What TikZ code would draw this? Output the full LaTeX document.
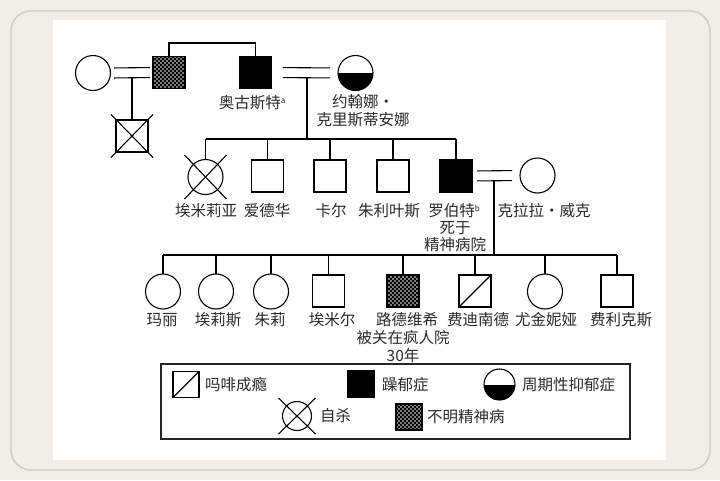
\documentclass[tikz,border=0pt]{standalone}
\usepackage{fontspec}
\setmainfont{Noto Sans CJK SC}
\usetikzlibrary{patterns}
\definecolor{bgc}{HTML}{F2EDE6}
\definecolor{bordc}{HTML}{D4C9BC}
\definecolor{txt}{HTML}{2A2A2A}
\pgfdeclarepatternformonly{wdots}{\pgfqpoint{-0.5pt}{-0.5pt}}{\pgfqpoint{4.5pt}{4.5pt}}{\pgfqpoint{4pt}{4pt}}{%
  \pgfpathcircle{\pgfqpoint{1pt}{1pt}}{0.8pt}%
  \pgfpathcircle{\pgfqpoint{3pt}{3pt}}{0.8pt}%
  \pgfusepath{fill}}
\newcommand{\supmark}[1]{\raisebox{5pt}{\fontsize{8}{8}\selectfont #1}}
\begin{document}
\begin{tikzpicture}[x=1pt,y=-1pt,
  sym/.style={draw=black, line width=1.1pt, fill=white, inner sep=0pt, outer sep=0pt},
  male/.style={sym, rectangle, minimum size=32pt},
  female/.style={sym, circle, minimum size=35pt},
  aff/.style={fill=black},
  unk/.style={fill=none, preaction={fill=black}, pattern=wdots, pattern color=white},
  morph/.style={path picture={\draw[line width=1.1pt] (path picture bounding box.south west) -- (path picture bounding box.north east);}},
  cyc/.style={path picture={\fill[black] (path picture bounding box.west) rectangle (path picture bounding box.south east);}},
  lab/.style={inner sep=0pt, font=\fontsize{15.5}{17.5}\selectfont, text=txt},
  ln/.style={line width=1.1pt, draw=black},
  xmark/.style={line width=1.1pt, draw=black}
]
% background
\useasboundingbox (0,0) rectangle (720,480);
\fill[bgc] (0,0) rectangle (720,480);
\draw[bordc, line width=1.4pt, rounded corners=20pt] (11,11) rectangle (710,470);
\fill[white] (53,20) rectangle (666,460);

% ---------- generation 1
\node[female] (g1w) at (93,73) {};
\node[male, unk] (g1u) at (169,72.5) {};
\node[male, aff] (aug) at (255.5,72.5) {};
\node[female, cyc] (joh) at (355.5,73) {};
\node[male] (g1c) at (132,136) {};
\draw[xmark] ([shift={(-21pt,21.5pt)}]g1c.center) -- ([shift={(21pt,-21.5pt)}]g1c.center);
\draw[xmark] ([shift={(-21pt,-21.5pt)}]g1c.center) -- ([shift={(21pt,21.5pt)}]g1c.center);

\node[lab] (laug) at (252,103) {奥古斯特\supmark{a}};
\node[lab] (ljoh1) at (363,102) {约翰娜・};
\node[lab] (ljoh2) at (363,120) {克里斯蒂安娜};

% sibship of gen 1
\coordinate (s1) at (212,43);
\draw[ln] (g1u.north) -- (g1u.north |- s1) -- (aug.north |- s1) -- (aug.north);
% marriages gen 1
\draw[ln, shorten <=3.5pt, shorten >=3pt] ([yshift=5pt]g1w.east) -- ([yshift=5pt]g1u.west);
\draw[ln, shorten <=3.5pt, shorten >=3pt] ([yshift=-5pt]g1w.east) -- ([yshift=-5pt]g1u.west);
\coordinate (m1) at (132,78);
\draw[ln] (m1) -- (g1c.north);
\draw[ln, shorten <=11.5pt, shorten >=8pt] ([yshift=5pt]aug.east) -- ([yshift=5pt]joh.west);
\draw[ln, shorten <=11.5pt, shorten >=8pt] ([yshift=-5pt]aug.east) -- ([yshift=-5pt]joh.west);
\coordinate (m2) at (307,78);
\coordinate (s2) at (307,139);
\draw[ln] (m2) -- (s2);

% ---------- generation 2
\node[female] (emi) at (205.5,177) {};
\node[male] (edw) at (267.5,176) {};
\node[male] (carl) at (330,176) {};
\node[male] (jul) at (393,176) {};
\node[male, aff] (rob) at (456,176) {};
\node[female] (clara) at (537.5,175.5) {};
\draw[xmark] ([shift={(-21pt,22pt)}]emi.center) -- ([shift={(21pt,-22pt)}]emi.center);
\draw[xmark] ([shift={(-21pt,-22pt)}]emi.center) -- ([shift={(21pt,22pt)}]emi.center);

\draw[ln] (emi.north |- s2) -- (rob.north |- s2);
\foreach \n in {emi,edw,carl,jul,rob} \draw[ln] (\n.north |- s2) -- (\n.north);

\node[lab] (lemi) at (206,211) {埃米莉亚};
\node[lab] (ledw) at (267,211) {爱德华};
\node[lab] (lcarl) at (331,211) {卡尔};
\node[lab] (ljul) at (389,211) {朱利叶斯};
\node[lab] (lrob1) at (454,211) {罗伯特\supmark{b}};
\node[lab] (lrob2) at (455,228) {死于};
\node[lab] (lrob3) at (455,245) {精神病院};
\node[lab] (lclara) at (544,211) {克拉拉・威克};

\draw[ln, shorten <=5pt, shorten >=8pt] ([yshift=5pt]rob.east) -- ([yshift=5pt]clara.west);
\draw[ln, shorten <=5pt, shorten >=8pt] ([yshift=-5pt]rob.east) -- ([yshift=-5pt]clara.west);
\coordinate (m3) at (494,181);
\coordinate (s3) at (494,255);
\draw[ln] (m3) -- (s3);

% ---------- generation 3
\node[female] (mary) at (163,291.5) {};
\node[female] (elise) at (216,291.5) {};
\node[female] (julie) at (271,291.5) {};
\node[male] (emil) at (328.5,291) {};
\node[male, unk] (lud) at (403,291) {};
\node[male, morph] (ferd) at (475,291) {};
\node[female] (eug) at (545,291.5) {};
\node[male] (felix) at (617,291) {};

\draw[ln] (mary.north |- s3) -- (felix.north |- s3);
\foreach \n in {mary,elise,julie,emil,lud,ferd,eug,felix} \draw[ln] (\n.north |- s3) -- (\n.north);

\node[lab] (lmary) at (162,320) {玛丽};
\node[lab] (lelise) at (218,320) {埃莉斯};
\node[lab] (ljulie) at (270,320) {朱莉};
\node[lab] (lemil) at (332,320) {埃米尔};
\node[lab] (llud1) at (407,320) {路德维希};
\node[lab] (llud2) at (403,338) {被关在疯人院};
\node[lab] (llud3) at (403,356) {30年};
\node[lab] (lferd) at (478,320) {费迪南德};
\node[lab] (leug) at (546,320) {尤金妮娅};
\node[lab] (lfelix) at (621,320) {费利克斯};

% ---------- legend
\draw[line width=1.2pt, draw=black!85] (161,364) rectangle (630,439);
\node[male, morph, minimum size=26pt] (lg1) at (186,384.5) {};
\node[lab, anchor=west] (lt1) at (205,385) {吗啡成瘾};
\node[male, aff, minimum size=26pt] (lg2) at (361,384) {};
\node[lab, anchor=west] (lt2) at (382,385) {躁郁症};
\node[female, cyc, minimum size=31pt] (lg3) at (499.5,384.5) {};
\node[lab, anchor=west] (lt3) at (522,385) {周期性抑郁症};
\node[female, minimum size=29pt] (lg4) at (297,416) {};
\draw[xmark] ([shift={(-18.5pt,18pt)}]lg4.center) -- ([shift={(18.5pt,-18pt)}]lg4.center);
\draw[xmark] ([shift={(-18.5pt,-18pt)}]lg4.center) -- ([shift={(18.5pt,18pt)}]lg4.center);
\node[lab, anchor=west] (lt4) at (320,416) {自杀};
\node[male, unk, minimum size=26pt] (lg5) at (409,417) {};
\node[lab, anchor=west] (lt5) at (427,417) {不明精神病};
\end{tikzpicture}
\end{document}
